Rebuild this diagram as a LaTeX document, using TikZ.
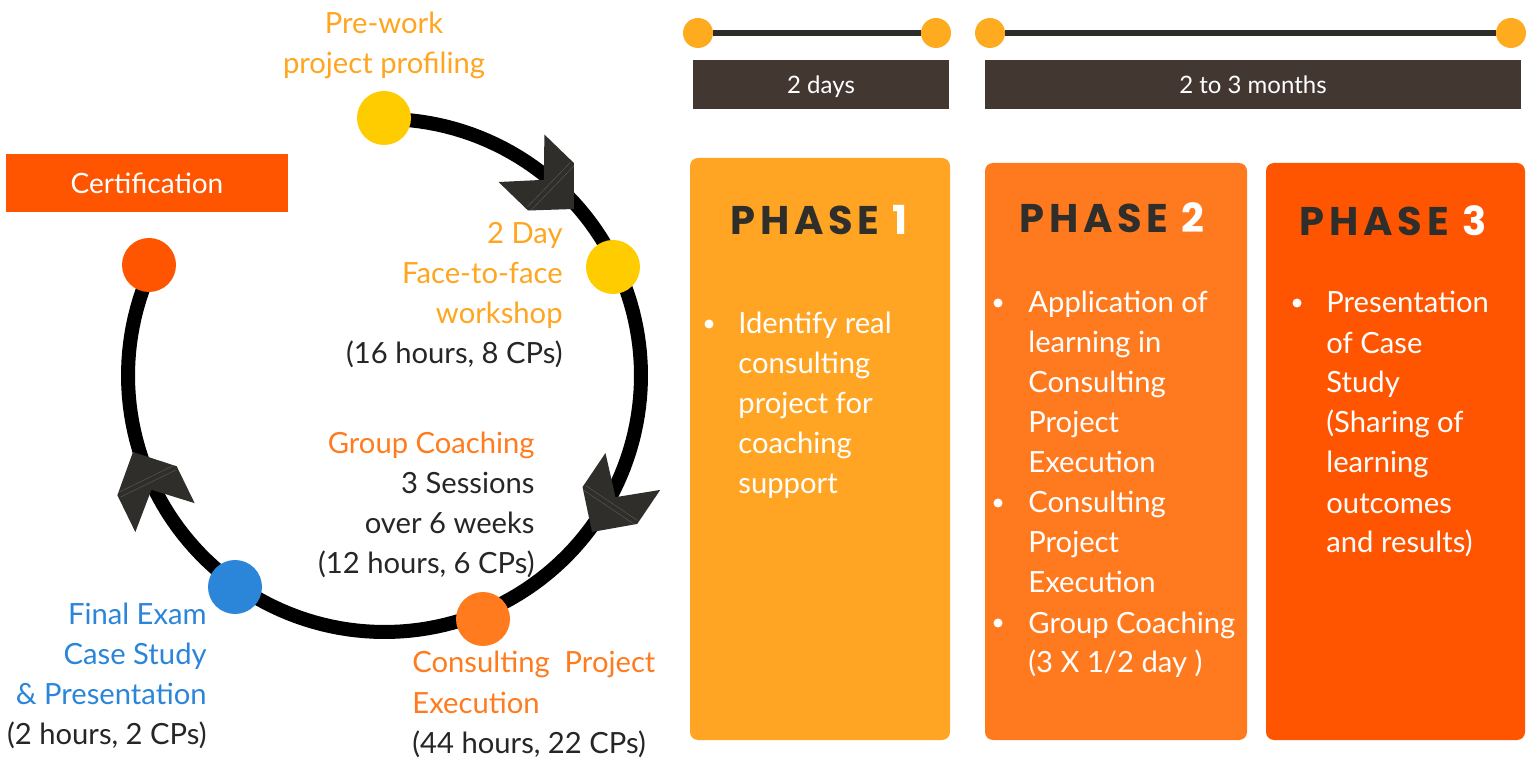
\documentclass[tikz,border=0pt]{standalone}
\usepackage{fontspec}
\setmainfont{Lato}
\newfontfamily\phasefont{Poppins}[LetterSpace=12.0]
\definecolor{cyel}{HTML}{FFCC00}
\definecolor{ctxtyel}{HTML}{FFA51F}
\definecolor{ctdot}{HTML}{FFAB1F}
\definecolor{cph1}{HTML}{FFA523}
\definecolor{cph2}{HTML}{FF7A1F}
\definecolor{cph3}{HTML}{FF5500}
\definecolor{corg}{HTML}{FF7B1E}
\definecolor{cblue}{HTML}{2B85D9}
\definecolor{cdbox}{HTML}{433831}
\definecolor{carrow}{HTML}{2F2E2A}
\definecolor{cline}{HTML}{2E2C28}
\definecolor{ctxt}{HTML}{262626}
\tikzset{
  lbl/.style={font=\fontsize{14.6}{20}\selectfont, inner sep=0pt},
  ptxt/.style={font=\fontsize{14.6}{20}\selectfont, inner sep=0pt, text=white, align=left, anchor=base west},
  bul/.style={circle, fill=white, inner sep=0pt, minimum size=4.5pt},
  bigdot/.style={circle, inner sep=0pt, minimum size=27pt},
  tdot/.style={circle, fill=ctdot, inner sep=0pt, minimum size=15pt},
  tline/.style={draw=cline, line width=3pt},
  ring/.style={draw=black, line width=7pt},
  dbox/.style={fill=cdbox, text=white, inner sep=0pt, minimum height=24.5pt, text height=10pt, text depth=1pt, font=\fontsize{12}{14}\selectfont},
  pbox/.style={rounded corners=4pt, inner sep=0pt, minimum height=290pt},
  phase/.style={font=\phasefont\bfseries\fontsize{20}{24}\selectfont, text=carrow, inner sep=0pt, anchor=base},
  chev/.pic={
    \fill[carrow] (0,0) -- (-32,-33) -- (-73,-33) -- (-42,0) -- (-73,33) -- (-32,33) -- cycle;
    \draw[black!55!white, line width=0.3pt, opacity=0.5] (-30,31) -- (-30,-31) (-35,31) -- (-35,-31);
  }
}
\begin{document}
\begin{tikzpicture}[x=0.5pt,y=-0.5pt]
\useasboundingbox (0,0) rectangle (1526,758);

% ---------- timeline ----------
\node[tdot] (t1a) at (698,33) {};
\node[tdot] (t1b) at (936,33) {};
\node[tdot] (t2a) at (990,33) {};
\node[tdot] (t2b) at (1511,33) {};
\draw[tline] (t1a) -- (t1b);
\draw[tline] (t2a) -- (t2b);
\node[dbox, minimum width=128pt] (d1) at (821,84.5) {2 days};
\node[dbox, minimum width=268pt] (d2) at (1253,84.5) {2 to 3 months};

% ---------- phase boxes ----------
\node[pbox, fill=cph1, minimum width=130pt, minimum height=291pt] (ph1) at (820,449) {};
\node[pbox, fill=cph2, minimum width=131pt, minimum height=288.5pt] (ph2) at (1116,451.5) {};
\node[pbox, fill=cph3, minimum width=129.5pt, minimum height=288.5pt] (ph3) at (1395.5,451.5) {};

\node[phase] (h1) at (819,235) {PHASE \textcolor{white}{1}};
\node[phase] (h2) at (1112,233) {PHASE \textcolor{white}{2}};
\node[phase] (h3) at (1393,236) {PHASE \textcolor{white}{3}};

\node[bul] (b11) at (709,324) {};
\node[ptxt] (l11) at (738,494) {Identify real\\consulting\\project for\\coaching\\support};

\node[bul] (b21) at (998,303) {};
\node[ptxt] (l21) at (1028,473) {Application of\\learning in\\Consulting\\Project\\Execution};
\node[bul] (b22) at (998,503) {};
\node[ptxt] (l22) at (1028,593) {Consulting\\Project\\Execution};
\node[bul] (b23) at (998,623) {};
\node[ptxt] (l23) at (1028,673) {Group Coaching\\(3 X 1/2 day )};

\node[bul] (b31) at (1297,303) {};
\node[ptxt] (l31) at (1326,553) {Presentation\\of Case\\Study\\(Sharing of\\learning\\outcomes\\and results)};

% ---------- certification ----------
\node[fill=cph3, text=white, inner sep=0pt, minimum width=141pt, minimum height=29pt, text height=12pt, text depth=1pt, font=\fontsize{14}{16}\selectfont] (cert) at (147,183) {Certification};

% ---------- ring ----------
\draw[ring] plot[domain=270:565, samples=150] ({384.5+256.5*cos(\x)},{375.5+256.5*sin(\x)});

\node[bigdot, fill=cyel] (n1) at (384,118) {};
\node[bigdot, fill=cyel] (n2) at (613,267) {};
\node[bigdot, fill=corg] (n3) at (483,619) {};
\node[bigdot, fill=cblue] (n4) at (235,587) {};
\node[bigdot, fill=cph3] (n5) at (149,265) {};

\path (574,209) pic[rotate=-44] {chev};
\path (592,532) pic[rotate=-124] {chev};
\path (133,452) pic[rotate=-244] {chev};

% ---------- ring labels ----------
\node[lbl, text=ctxtyel, align=center, anchor=base] (tx1) at (384,74) {Pre-work\\project profiling};
\node[lbl, text=ctxtyel, align=right, anchor=base east] (tx2) at (563,364) {2 Day\\Face-to-face\\workshop\\\textcolor{ctxt}{(16 hours, 8 CPs)}};
\node[lbl, text=ctxt, align=right, anchor=base east] (tx3) at (535,574) {\textcolor{corg}{Group Coaching}\\3 Sessions\\over 6 weeks\\(12 hours, 6 CPs)};
\node[lbl, text=corg, align=left, anchor=base west] (tx4) at (412,753) {Consulting\ \ Project\\Execution\\\textcolor{ctxt}{(44 hours, 22 CPs)}};
\node[lbl, text=cblue, align=right, anchor=base east] (tx5) at (207,744) {Final Exam\\Case Study\\\& Presentation\\\textcolor{ctxt}{(2 hours, 2 CPs)}};
\end{tikzpicture}
\end{document}
